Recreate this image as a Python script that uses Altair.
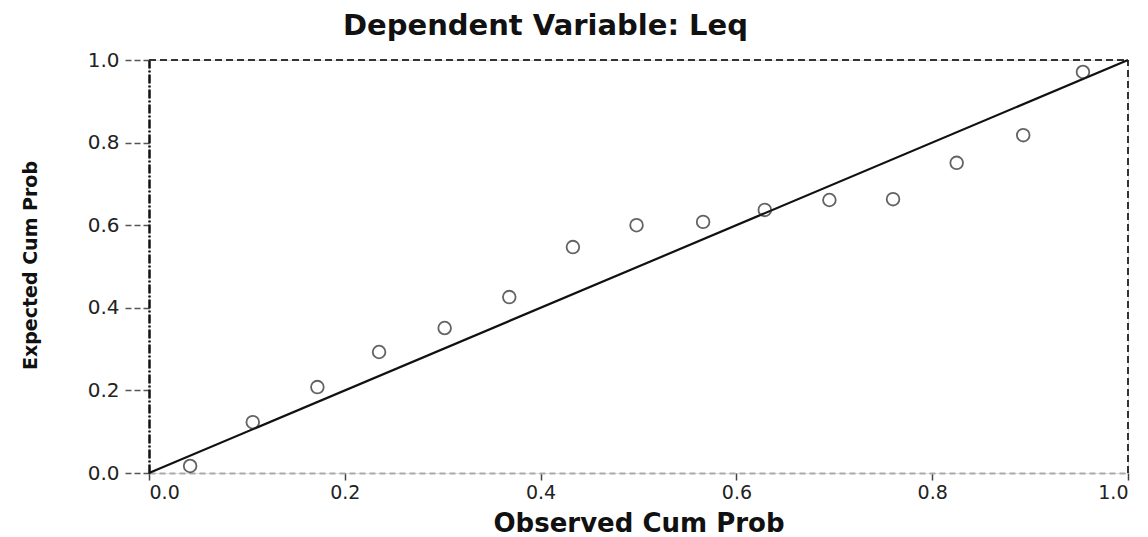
import altair as alt
import pandas as pd

# Observed vs expected cumulative probabilities
observed = [0.042, 0.106, 0.172, 0.235, 0.302, 0.368, 0.433, 0.498,
            0.566, 0.629, 0.695, 0.760, 0.825, 0.893, 0.954]
expected = [0.017, 0.123, 0.208, 0.293, 0.351, 0.426, 0.547, 0.600,
            0.608, 0.637, 0.661, 0.663, 0.751, 0.818, 0.971]

diag_x = [0.0, 1.0]
diag_y = [0.0, 1.0]

ticks = [0.0, 0.2, 0.4, 0.6, 0.8, 1.0]

# frame borders (top and right) in data units
border_x = [0.0, 1.0]
border_x2 = [1.0, 1.0]
border_y = [1.0, 0.0]
border_y2 = [1.0, 1.0]

pts = pd.DataFrame({"obs": observed, "exp": expected})
diag = pd.DataFrame({"obs": diag_x, "exp": diag_y})
border = pd.DataFrame({"x": border_x, "x2": border_x2, "y": border_y, "y2": border_y2})

FONT = "DejaVu Sans"

xscale = alt.Scale(domain=[0, 1], nice=False, zero=False)
yscale = alt.Scale(domain=[0, 1], nice=False, zero=False)

xaxis = alt.Axis(
    title="Observed Cum Prob", values=ticks, format=".1f", grid=False,
    labelFont=FONT, labelFontSize=19, labelColor="#222", labelPadding=3,
    tickSize=7, tickColor="#444", tickWidth=1.5,
    domainColor="#aaaaaa", domainWidth=2, domainDash=[6, 4],
    titleFont=FONT, titleFontSize=26, titleFontWeight="bold", titleColor="#111",
    titleBaseline="middle", titleY=50,
)
yaxis = alt.Axis(
    title="Expected Cum Prob", values=ticks, format=".1f", grid=False,
    labelFont=FONT, labelFontSize=20, labelColor="#222", labelPadding=3,
    tickSize=27, tickColor="#555", tickWidth=1.5, tickDash=[6, 3],
    domainColor="#111", domainWidth=2.5, domainDash=[9, 2, 2, 2],
    titleFont=FONT, titleFontSize=19, titleFontWeight="bold", titleColor="#111",
    titleX=-119, titleY=205, titleBaseline="middle", titleAngle=270,
)

line = alt.Chart(diag).mark_line(color="#111", strokeWidth=2.2).encode(
    x=alt.X("obs:Q", scale=xscale, axis=xaxis),
    y=alt.Y("exp:Q", scale=yscale, axis=yaxis),
)

points = alt.Chart(pts).mark_point(
    shape="circle", filled=False, color="#222", size=160, strokeWidth=1.8
).encode(
    x=alt.X("obs:Q", scale=xscale),
    y=alt.Y("exp:Q", scale=yscale),
)

frame = alt.Chart(border).mark_rule(
    color="#333", strokeWidth=2, strokeDash=[7, 4]
).encode(
    x=alt.X("x:Q", scale=xscale), x2="x2:Q",
    y=alt.Y("y:Q", scale=yscale), y2="y2:Q",
)

chart = alt.layer(frame, line, points).properties(
    width=979,
    height=413,
    autosize=alt.AutoSizeParams(type="none"),
    padding={"left": 141, "top": 52, "right": 12, "bottom": 64},
    title=alt.TitleParams(
        "Dependent Variable: Leq", font=FONT, fontSize=29, fontWeight="bold",
        color="#111", anchor="middle", dx=-93, offset=9,
    ),
).configure_view(
    fill="#eeeeee", stroke=None
).configure(background="white")

chart.save("out.html", embed_options={"renderer": "svg", "actions": False})
